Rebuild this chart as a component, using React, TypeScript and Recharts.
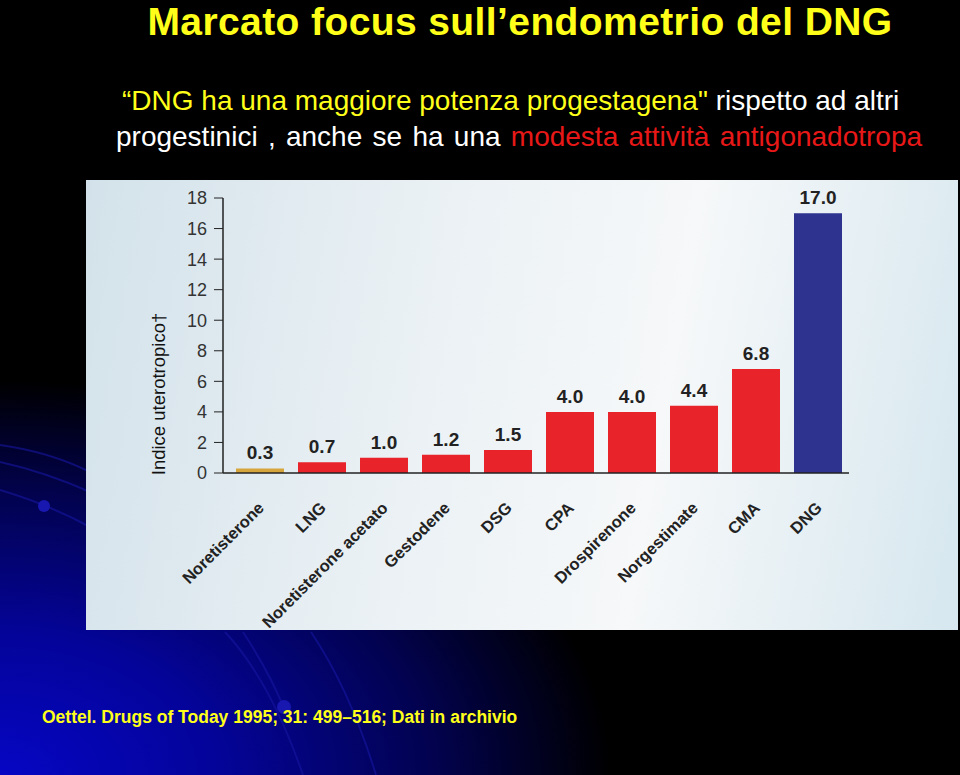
import React from "react";
import { BarChart, Bar, XAxis, YAxis, Cell, LabelList, Label } from "recharts";

// progestinici confrontati
const drugs = [
  "Noretisterone",
  "LNG",
  "Noretisterone acetato",
  "Gestodene",
  "DSG",
  "CPA",
  "Drospirenone",
  "Norgestimate",
  "CMA",
  "DNG",
];
// indice uterotropico
const uterotropicIndex = [0.3, 0.7, 1.0, 1.2, 1.5, 4.0, 4.0, 4.4, 6.8, 17.0];
const yTicks = [0, 2, 4, 6, 8, 10, 12, 14, 16, 18];

const FONT = '"Liberation Sans", Arial, Helvetica, sans-serif';

const chartData = drugs.map((name, i) => ({ name, value: uterotropicIndex[i] }));

function getColor(name: string): string {
  if (name === "Noretisterone") return "#d6a53c";
  if (name === "DNG") return "#2d338f";
  return "#e8232a";
}

const DrugTick = (props: any) => {
  const { x, y, payload } = props;
  const tx = x + 5;
  const ty = y + 28;
  return (
    <text
      x={tx}
      y={ty}
      transform={`rotate(-45, ${tx}, ${ty})`}
      textAnchor="end"
      fontFamily={FONT}
      fontWeight="bold"
      fontSize={16.5}
      fill="#222"
    >
      {payload.value}
    </text>
  );
};

const Decorations = () => (
  <svg width={960} height={775} style={{ position: "absolute", left: 0, top: 0 }}>
    <g fill="none" stroke="#1616a0" strokeWidth={2} opacity={0.6}>
      <path d="M0,445 Q50,452 90,472" />
      <path d="M0,462 Q45,472 90,492" />
      <path d="M0,490 Q50,505 90,527" />
      <path d="M225,632 Q270,680 303,775" />
      <path d="M243,632 Q268,670 284,708" />
      <path d="M311,632 Q350,690 376,775" />
    </g>
    <circle cx={44} cy={506} r={6} fill="#1818b0" />
    <circle cx={284} cy={707} r={7} fill="#1818b0" />
  </svg>
);

export default function App() {
  return (
    <div
      style={{
        position: "fixed",
        left: 0,
        top: 0,
        width: 960,
        height: 775,
        overflow: "hidden",
        fontFamily: FONT,
        background:
          "radial-gradient(ellipse 75% 60% at 0% 100%, #0606c4 0%, #04049a 30%, #020250 60%, #000 85%)",
        backgroundColor: "#000",
      }}
    >
      <Decorations />

      <div
        style={{
          position: "absolute",
          left: 0,
          width: 960,
          top: 0,
          textAlign: "center",
          paddingLeft: 80,
          boxSizing: "border-box",
          fontSize: 39,
          letterSpacing: 0.4,
          lineHeight: "normal",
          fontWeight: "bold",
          color: "#ffff1a",
          whiteSpace: "nowrap",
        }}
      >
        Marcato focus sull’endometrio del DNG
      </div>

      <div
        style={{
          position: "absolute",
          left: 122,
          top: 85,
          fontSize: 28,
          lineHeight: "32px",
          whiteSpace: "nowrap",
          color: "#fff",
        }}
      >
        <span style={{ color: "#ffff1a" }}>“DNG ha una maggiore potenza progestagena"</span> rispetto ad altri
      </div>
      <div
        style={{
          position: "absolute",
          left: 116,
          top: 121,
          fontSize: 28,
          lineHeight: "32px",
          wordSpacing: 2.5,
          whiteSpace: "nowrap",
          color: "#fff",
        }}
      >
        progestinici , anche se ha una <span style={{ color: "#e81818" }}>modesta attività antigonadotropa</span>
      </div>

      <div
        style={{
          position: "absolute",
          left: 86,
          top: 180,
          width: 872,
          height: 450,
          background:
            "linear-gradient(100deg, #d3e2ea 0%, #e9f0f4 35%, #f6f8f9 65%, #d6e7ef 100%)",
        }}
      >
        <BarChart
          width={872}
          height={450}
          data={chartData}
          margin={{ top: 18, right: 109, bottom: 97, left: 57 }}
        >
          <XAxis
            dataKey="name"
            interval={0}
            padding={{ left: 6, right: 0 }}
            axisLine={{ stroke: "#222", strokeWidth: 1.5 }}
            tickLine={false}
            tick={<DrugTick />}
            height={60}
          />
          <YAxis
            domain={[0, 18]}
            ticks={yTicks}
            width={80}
            axisLine={{ stroke: "#222", strokeWidth: 1.5 }}
            tickLine={{ stroke: "#222" }}
            tickSize={9}
            tickMargin={7}
            tick={{ fill: "#333", fontSize: 18, fontFamily: FONT }}
          >
            <Label
              content={() => (
                <text
                  x={72}
                  y={214}
                  transform="rotate(-90, 72, 214)"
                  textAnchor="middle"
                  dominantBaseline="central"
                  fontFamily={FONT}
                  fontSize={18.5}
                  fill="#111"
                >
                  Indice uterotropico†
                </text>
              )}
            />
          </YAxis>
          <Bar dataKey="value" barSize={48} isAnimationActive={false}>
            {chartData.map((d) => (
              <Cell key={d.name} fill={getColor(d.name)} />
            ))}
            <LabelList
              dataKey="value"
              position="top"
              offset={9}
              formatter={(v: any) => Number(v).toFixed(1)}
              style={{ fill: "#222", fontSize: 19, fontWeight: "bold", fontFamily: FONT }}
            />
          </Bar>
        </BarChart>
      </div>

      <div
        style={{
          position: "absolute",
          left: 42,
          top: 706,
          fontSize: 17.5,
          lineHeight: "22px",
          fontWeight: "bold",
          color: "#ffff1a",
          whiteSpace: "nowrap",
        }}
      >
        Oettel. Drugs of Today 1995; 31: 499–516; Dati in archivio
      </div>
    </div>
  );
}
